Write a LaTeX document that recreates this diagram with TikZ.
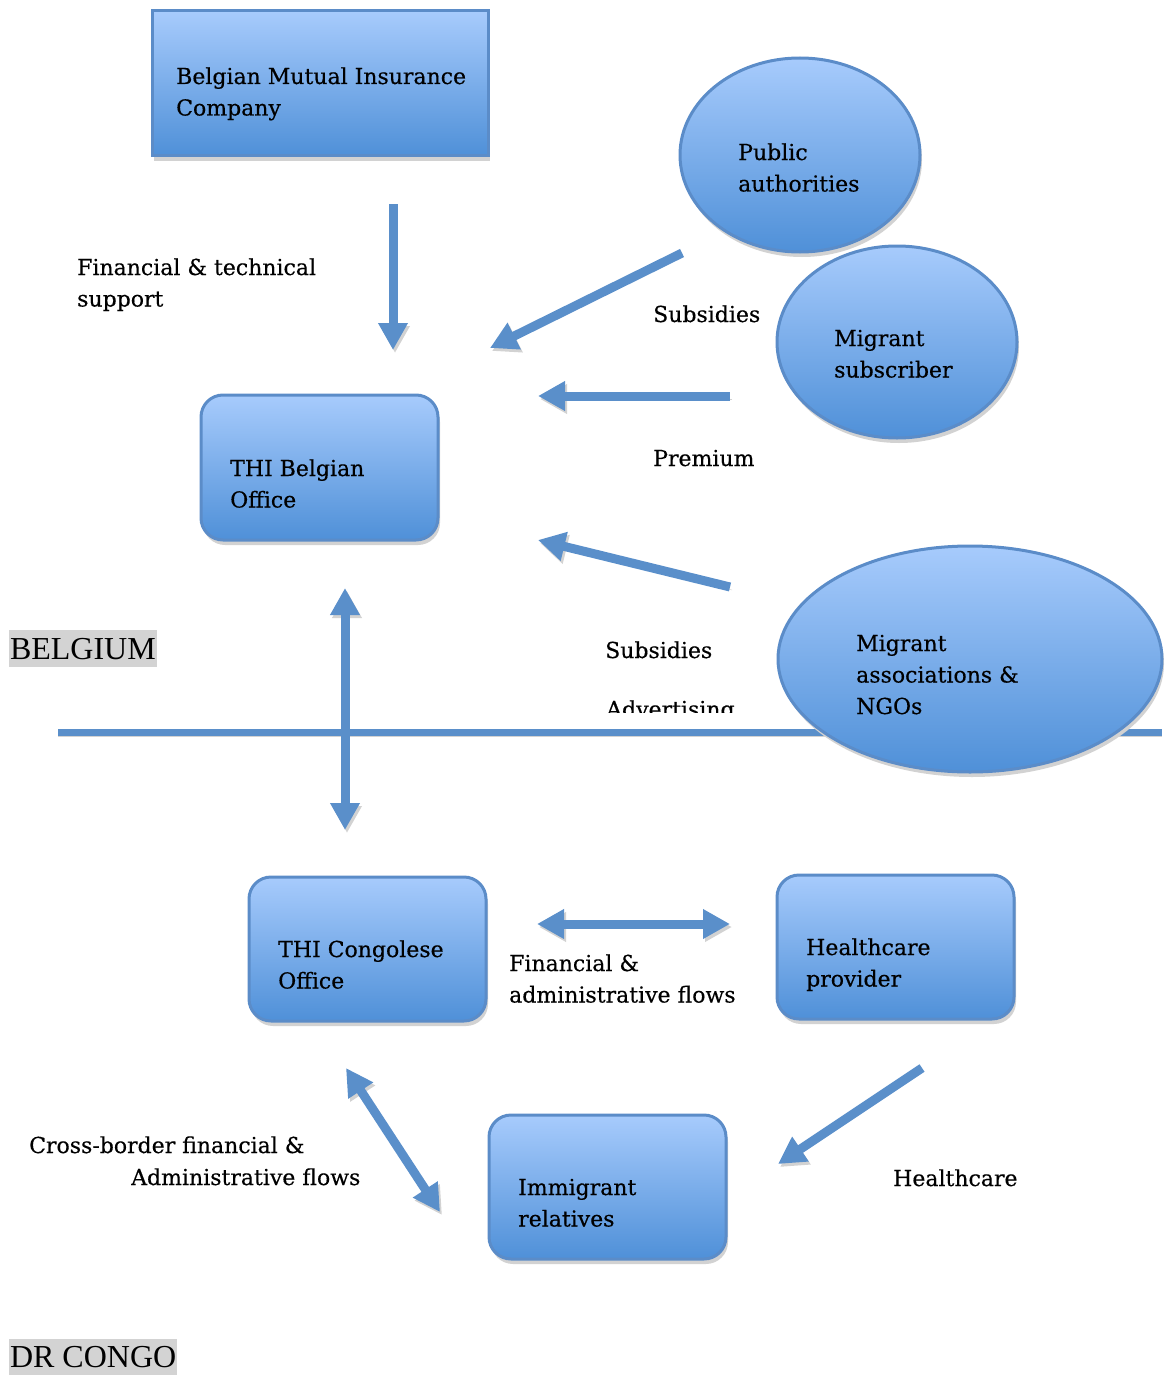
\documentclass[tikz,border=0pt]{standalone}
\usepackage{fontspec}
\setmainfont{DejaVu Serif}[FakeBold=0.4]
\newfontfamily\tnr{Liberation Serif}
\usetikzlibrary{shapes.geometric,shadows,arrows.meta}
\definecolor{boxtop}{HTML}{A7CBFC}
\definecolor{boxbot}{HTML}{4F90D8}
\definecolor{boxline}{HTML}{5B8CC8}
\definecolor{arrowblue}{HTML}{5A8FCA}
\definecolor{shade}{HTML}{D2D2D2}
\definecolor{labelgray}{HTML}{D3D3D3}
\begin{document}
\begin{tikzpicture}[x=1pt,y=-1pt,
  shapebase/.style={draw=boxline, line width=3pt, top color=boxtop, bottom color=boxbot,
    inner sep=0pt, drop shadow={shadow xshift=2pt, shadow yshift=-5pt, fill=shade, opacity=1}},
  sqbox/.style={shapebase, rectangle},
  rbox/.style={shapebase, rectangle, rounded corners=22pt},
  oval/.style={shapebase, ellipse},
  txt/.style={font=\fontsize{22}{31.5}\selectfont, align=left, inner sep=0pt, anchor=base west},
  country/.style={fill=labelgray, font=\tnr\fontsize{32}{32}\selectfont, inner xsep=0.8pt,
    inner ysep=0pt, anchor=north west},
  blockarrow/.style={line width=9pt, draw=arrowblue, -{Triangle[width=28pt,length=27pt]},
    preaction={draw=shade, transform canvas={xshift=2pt,yshift=-3pt}}},
  blockdouble/.style={line width=9pt, draw=arrowblue,
    {Triangle[width=28pt,length=27pt]}-{Triangle[width=28pt,length=27pt]},
    preaction={draw=shade, transform canvas={xshift=2pt,yshift=-3pt}}},
  divider/.style={line width=7pt, draw=arrowblue,
    preaction={draw=shade, transform canvas={yshift=-4pt}}}
]
\useasboundingbox (0,0) rectangle (1164,1375);

% border line between countries
\coordinate (divl) at (58,732);
\coordinate (divr) at (1162,732);
\draw[divider] (divl) -- (divr);

% shapes
\node[sqbox, minimum width=336pt, minimum height=145pt] (bmic) at (320,83.5) {};
\node[oval, minimum width=240pt, minimum height=194pt] (pub) at (800,155) {};
\node[oval, minimum width=240pt, minimum height=192pt] (msub) at (897,342) {};
\node[rbox, minimum width=237pt, minimum height=145pt] (thib) at (319.5,467.5) {};
\node[oval, minimum width=384pt, minimum height=226pt] (ngo) at (970,659) {};
\node[rbox, minimum width=237pt, minimum height=144pt] (thic) at (367.5,949) {};
\node[rbox, minimum width=237pt, minimum height=144pt] (hcp) at (895.5,947) {};
\node[rbox, minimum width=237pt, minimum height=144pt] (imm) at (607.5,1187) {};

% shape texts (anchored at the baseline of the last line)
\node[txt] (bmic-t) at (176,115.5) {Belgian Mutual Insurance\\Company};
\node[txt] (pub-t) at (738,191.5) {Public\\authorities};
\node[txt] (msub-t) at (834,377.5) {Migrant\\subscriber};
\node[txt] (thib-t) at (230,507.5) {THI Belgian\\Office};
\node[txt] (ngo-t) at (856,714) {Migrant\\associations \&\\NGOs};
\node[txt] (thic-t) at (278,988.5) {THI Congolese\\Office};
\node[txt] (hcp-t) at (806,986.5) {Healthcare\\provider};
\node[txt] (imm-t) at (518,1226.5) {Immigrant\\relatives};

% arrow end points
\coordinate (a1s) at (393,204);  \coordinate (a1e) at (393,350);
\coordinate (a2s) at (682,253);  \coordinate (a2e) at (490,348);
\coordinate (a3s) at (730,396);  \coordinate (a3e) at (538,396);
\coordinate (a4s) at (730,587);  \coordinate (a4e) at (538,540);
\coordinate (a5s) at (345,588);  \coordinate (a5e) at (345,830);
\coordinate (a6s) at (537,924);  \coordinate (a6e) at (730,924);
\coordinate (a7s) at (346,1068); \coordinate (a7e) at (440,1212);
\coordinate (a8s) at (922,1068); \coordinate (a8e) at (778,1164);

\draw[blockarrow] (a1s) -- (a1e);
\draw[blockarrow] (a2s) -- (a2e);
\draw[blockarrow] (a3s) -- (a3e);
\draw[blockarrow] (a4s) -- (a4e);
\draw[blockdouble] (a5s) -- (a5e);
\draw[blockdouble] (a6s) -- (a6e);
\draw[blockdouble] (a7s) -- (a7e);
\draw[blockarrow] (a8s) -- (a8e);

% connector labels
\node[txt] (l1) at (77,306.5) {Financial \& technical\\support};
\node[txt] (l2) at (653,322) {Subsidies};
\node[txt] (l3) at (653,466) {Premium};
\node[txt] (l4) at (605,658) {Subsidies};
\begin{scope}
  \clip (590,680) rectangle (770,712);
  \node[txt] (l5) at (606,717) {Advertising};
\end{scope}
\node[txt] (l6) at (509,1002.5) {Financial \&\\administrative flows};
\node[txt] (l7a) at (29,1153) {Cross-border financial \&};
\node[txt] (l7b) at (131,1185) {Administrative flows};
\node[txt] (l8) at (893,1186) {Healthcare};

% country labels
\node[country, minimum height=37pt] (belgium) at (9,630) {BELGIUM};
\node[country, minimum height=36pt] (congo) at (9,1339) {DR CONGO};
\end{tikzpicture}
\end{document}
